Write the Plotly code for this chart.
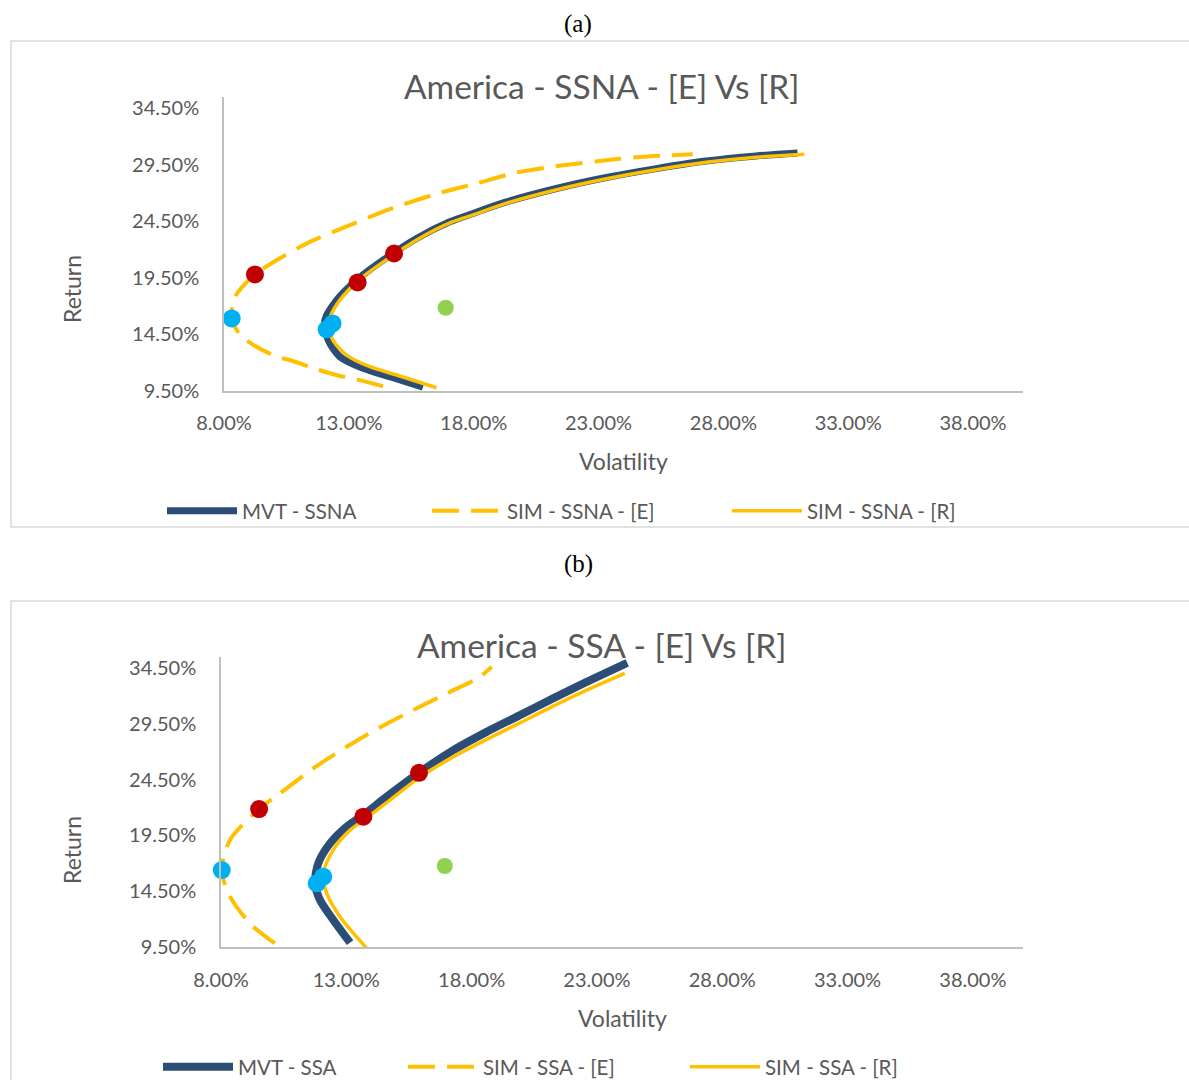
import plotly.graph_objects as go

# ---------------- Panel (a): America - SSNA ----------------
# Volatility (%) and return (%) along each efficient frontier
mvt_ssna_vol = [15.97, 14.64, 13.57, 12.64, 12.17, 12.04, 12.51, 13.31, 14.37, 15.71,
                17.04, 17.97, 19.31, 21.31, 23.31, 25.31, 27.31, 29.31, 30.97]
mvt_ssna_ret = [9.83, 10.76, 11.51, 12.53, 14.01, 15.77, 17.54, 19.31, 21.07, 22.99,
                24.46, 25.20, 26.22, 27.41, 28.38, 29.17, 29.84, 30.29, 30.55]

sim_ssna_e_vol = [14.37, 13.31, 12.64, 11.71, 10.64, 10.11, 8.71, 8.31, 8.44, 9.24,
                  10.11, 11.44, 13.04, 14.64, 16.64, 18.11, 19.71, 21.31, 22.97, 24.64, 26.77]
sim_ssna_e_ret = [9.92, 10.53, 10.83, 11.42, 12.24, 12.53, 14.30, 15.92, 17.83, 19.81,
                  21.07, 22.69, 24.16, 25.58, 27.02, 27.85, 28.82, 29.38, 29.82, 30.20, 30.44]

sim_ssna_r_vol = [16.51, 15.04, 13.84, 12.91, 12.36, 12.20, 12.28, 12.64, 13.40, 14.48,
                  15.80, 17.12, 18.00, 19.32, 21.32, 23.32, 25.32, 27.32, 29.32, 31.24]
sim_ssna_r_ret = [9.79, 10.83, 11.65, 12.68, 14.00, 15.33, 16.21, 17.54, 19.31, 21.07,
                  22.97, 24.43, 25.09, 26.11, 27.30, 28.27, 29.07, 29.73, 30.17, 30.44]

# Highlighted portfolios (minimum variance, tangency, market)
ssna_minvar_vol = [8.31, 12.11, 12.35]
ssna_minvar_ret = [15.92, 14.95, 15.48]
ssna_tangent_vol = [9.24, 13.35, 14.81]
ssna_tangent_ret = [19.81, 19.10, 21.66]
ssna_market_vol = [16.88]
ssna_market_ret = [16.86]

# ---------------- Panel (b): America - SSA ----------------
mvt_ssa_vol = [13.15, 12.48, 11.95, 11.75, 11.88, 12.35, 13.01, 13.68, 14.61, 15.90,
               17.27, 18.60, 19.93, 21.25, 22.59, 24.21]
mvt_ssa_ret = [9.89, 11.92, 13.71, 15.21, 17.00, 18.79, 20.28, 21.33, 22.97, 25.12,
               27.15, 28.79, 30.29, 31.79, 33.27, 34.98]

sim_ssa_e_vol = [10.15, 9.22, 8.36, 8.03, 8.36, 9.52, 10.35, 11.68, 13.01, 14.34,
                 15.67, 17.00, 18.33, 18.80]
sim_ssa_e_ret = [9.83, 11.47, 14.01, 16.40, 19.09, 21.87, 23.27, 25.51, 27.45, 29.19,
                 30.74, 32.23, 33.72, 34.62]

sim_ssa_r_vol = [13.81, 12.75, 12.22, 12.08, 12.47, 13.15, 13.78, 14.74, 15.94,
                 17.27, 18.60, 19.93, 21.25, 22.59, 24.11]
sim_ssa_r_ret = [9.40, 12.22, 14.31, 16.10, 18.19, 19.98, 21.01, 22.67, 24.73,
                 26.55, 28.11, 29.60, 31.10, 32.53, 34.03]

ssa_minvar_vol = [8.03, 11.82, 12.08]
ssa_minvar_ret = [16.40, 15.21, 15.80]
ssa_tangent_vol = [9.52, 13.68, 15.90]
ssa_tangent_ret = [21.87, 21.18, 25.12]
ssa_market_vol = [16.93]
ssa_market_ret = [16.76]

# Axis ticks (percent)
x_ticks = [8, 13, 18, 23, 28, 33, 38]
x_tick_text = ["8.00%", "13.00%", "18.00%", "23.00%", "28.00%", "33.00%", "38.00%"]
y_ticks = [9.5, 14.5, 19.5, 24.5, 29.5, 34.5]
y_tick_text = ["9.50%", "14.50%", "19.50%", "24.50%", "29.50%", "34.50%"]

NAVY = "#2C4D75"
GOLD = "#FFC000"
RED = "#C00000"
CYAN = "#00B0F0"
GREEN = "#92D050"
GREY_TXT = "#595959"
AXIS_GREY = "#BFBFBF"
FONT = "Lato"

W, H = 1189, 1080


def px_x(x):
    return x / W


def px_y(y):
    return 1 - y / H


fig = go.Figure()


def add_panel(xa, ya, mvt, sim_e, sim_r, minvar, tangent, market, names, legends, mvt_width):
    xr, yr = xa.replace("axis", ""), ya.replace("axis", "")
    fig.add_trace(go.Scatter(x=mvt[0], y=mvt[1], mode="lines", name=names[0],
                             line=dict(color=NAVY, width=mvt_width, shape="spline", smoothing=0.8),
                             xaxis=xr, yaxis=yr, legend=legends[0]))
    fig.add_trace(go.Scatter(x=sim_e[0], y=sim_e[1], mode="lines", name=names[1],
                             line=dict(color=GOLD, width=4, dash="27px,12px", shape="spline", smoothing=0.8),
                             xaxis=xr, yaxis=yr, legend=legends[1]))
    fig.add_trace(go.Scatter(x=sim_r[0], y=sim_r[1], mode="lines", name=names[2],
                             line=dict(color=GOLD, width=3.5, shape="spline", smoothing=0.8),
                             xaxis=xr, yaxis=yr, legend=legends[2]))
    for pts, col, size in ((minvar, CYAN, 18), (tangent, RED, 18), (market, GREEN, 16)):
        fig.add_trace(go.Scatter(x=pts[0], y=pts[1], mode="markers", showlegend=False,
                                 marker=dict(color=col, size=size, line=dict(width=0)),
                                 cliponaxis=False, xaxis=xr, yaxis=yr))


add_panel("xaxis", "yaxis",
          (mvt_ssna_vol, mvt_ssna_ret), (sim_ssna_e_vol, sim_ssna_e_ret),
          (sim_ssna_r_vol, sim_ssna_r_ret),
          (ssna_minvar_vol, ssna_minvar_ret), (ssna_tangent_vol, ssna_tangent_ret),
          (ssna_market_vol, ssna_market_ret),
          ["MVT - SSNA", "SIM - SSNA - [E]", "SIM - SSNA - [R]"],
          ["legend", "legend2", "legend3"], 7)
add_panel("xaxis2", "yaxis2",
          (mvt_ssa_vol, mvt_ssa_ret), (sim_ssa_e_vol, sim_ssa_e_ret),
          (sim_ssa_r_vol, sim_ssa_r_ret),
          (ssa_minvar_vol, ssa_minvar_ret), (ssa_tangent_vol, ssa_tangent_ret),
          (ssa_market_vol, ssa_market_ret),
          ["MVT - SSA", "SIM - SSA - [E]", "SIM - SSA - [R]"],
          ["legend4", "legend5", "legend6"], 8)

axis_common = dict(showgrid=False, zeroline=False, showline=True, linecolor=AXIS_GREY,
                   linewidth=1.5, ticks="", automargin=False,
                   tickfont=dict(family=FONT, size=20, color=GREY_TXT), fixedrange=True)

fig.update_layout(
    xaxis=dict(domain=[px_x(224), px_x(1023)], range=[8, 40], tickvals=x_ticks, ticktext=x_tick_text,
               anchor="y", ticklabelstandoff=13, **axis_common),
    yaxis=dict(domain=[px_y(391), px_y(97)], range=[9.5, 35.5], tickvals=y_ticks, ticktext=y_tick_text,
               anchor="x", ticklabelstandoff=19, **axis_common),
    xaxis2=dict(domain=[px_x(221), px_x(1023)], range=[8, 40], tickvals=x_ticks, ticktext=x_tick_text,
                anchor="y2", ticklabelstandoff=14, **axis_common),
    yaxis2=dict(domain=[px_y(947), px_y(657)], range=[9.5, 35.5], tickvals=y_ticks, ticktext=y_tick_text,
                anchor="x2", ticklabelstandoff=19, **axis_common),
)

legend_font = dict(family=FONT, size=20.5, color=GREY_TXT)
legend_pos = {
    "legend": (167, 511), "legend2": (432, 511), "legend3": (732, 511),
    "legend4": (163, 1067), "legend5": (408, 1067), "legend6": (690, 1067),
}
for key, (lx, ly) in legend_pos.items():
    fig.update_layout({key: dict(x=px_x(lx - 5), y=px_y(ly), xanchor="left", yanchor="middle",
                                 orientation="h", itemwidth=70, font=legend_font,
                                 bgcolor="rgba(0,0,0,0)", borderwidth=0)})

annotations = [
    dict(text="(a)", x=px_x(578), y=px_y(24), font=dict(family="Liberation Serif", size=25, color="black")),
    dict(text="(b)", x=px_x(578), y=px_y(564), font=dict(family="Liberation Serif", size=25, color="black")),
    dict(text="America - SSNA - [E] Vs [R]", x=px_x(602), y=px_y(86),
         font=dict(family=FONT, size=33.5, color=GREY_TXT)),
    dict(text="America - SSA - [E] Vs [R]", x=px_x(602), y=px_y(645),
         font=dict(family=FONT, size=33.5, color=GREY_TXT)),
    dict(text="Volatility", x=px_x(623), y=px_y(461), font=dict(family=FONT, size=23, color=GREY_TXT)),
    dict(text="Volatility", x=px_x(622), y=px_y(1018), font=dict(family=FONT, size=23, color=GREY_TXT)),
    dict(text="Return", x=px_x(72), y=px_y(289), textangle=-90, font=dict(family=FONT, size=23, color=GREY_TXT)),
    dict(text="Return", x=px_x(72), y=px_y(850), textangle=-90, font=dict(family=FONT, size=23, color=GREY_TXT)),
]
for a in annotations:
    a.update(xref="paper", yref="paper", showarrow=False, xanchor="center", yanchor="middle")

shapes = [
    dict(type="rect", xref="paper", yref="paper", x0=px_x(11), x1=1.02, y0=px_y(527), y1=px_y(41),
         line=dict(color="#D9D9D9", width=1.5), fillcolor="rgba(0,0,0,0)", layer="below"),
    dict(type="rect", xref="paper", yref="paper", x0=px_x(11), x1=1.02, y0=-0.02, y1=px_y(601),
         line=dict(color="#D9D9D9", width=1.5), fillcolor="rgba(0,0,0,0)", layer="below"),
]

fig.update_layout(
    width=W, height=H, margin=dict(l=0, r=0, t=0, b=0, autoexpand=False),
    paper_bgcolor="white", plot_bgcolor="white",
    annotations=annotations, shapes=shapes,
)

fig.write_html("out.html")
